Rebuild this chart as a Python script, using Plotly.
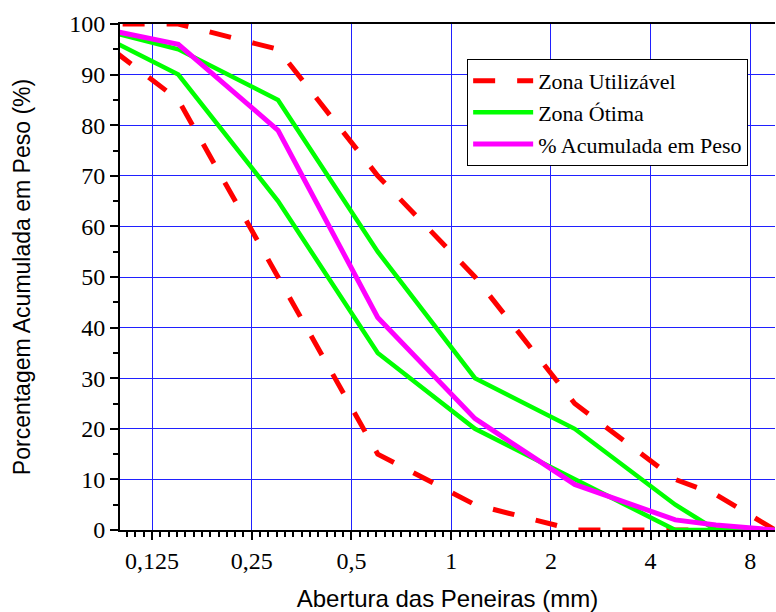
import math
import plotly.graph_objects as go

# Sieve openings (mm)
sieves = [0.075, 0.15, 0.3, 0.6, 1.18, 2.36, 4.75, 6.3, 9.5]

# Cumulative % retained
util_upper = [100, 100, 95, 70, 50, 25, 10, 7, 0]
util_lower = [100, 85, 50, 15, 5, 0, 0, 0, 0]
otima_upper = [100, 95, 85, 55, 30, 20, 5, 0, 0]
otima_lower = [100, 90, 65, 35, 20, 10, 0, 0, 0]
acumulada = [100, 96, 79, 42, 22, 9, 2, 1, 0]

x_tickvals = [0.125, 0.25, 0.5, 1, 2, 4, 8]
x_ticktext = ["0,125", "0,25", "0,5", "1", "2", "4", "8"]
y_tickvals = list(range(0, 101, 10))

RED = "#ff0000"
GREEN = "#00ff00"
MAGENTA = "#ff00ff"
SERIF = "Liberation Serif"
SANS = "Liberation Sans"

fig = go.Figure()

fig.add_trace(go.Scatter(x=sieves, y=util_upper, mode="lines", name="Zona Utilizável",
                         legendgroup="util", showlegend=True,
                         line=dict(color=RED, width=5, dash="22px,22px")))
fig.add_trace(go.Scatter(x=sieves, y=util_lower, mode="lines", name="Zona Utilizável",
                         legendgroup="util", showlegend=False,
                         line=dict(color=RED, width=5, dash="22px,22px")))
fig.add_trace(go.Scatter(x=sieves, y=otima_upper, mode="lines", name="Zona Ótima",
                         legendgroup="otima", showlegend=True,
                         line=dict(color=GREEN, width=4.5)))
fig.add_trace(go.Scatter(x=sieves, y=otima_lower, mode="lines", name="Zona Ótima",
                         legendgroup="otima", showlegend=False,
                         line=dict(color=GREEN, width=4.5)))
fig.add_trace(go.Scatter(x=sieves, y=acumulada, mode="lines", name="% Acumulada em Peso",
                         legendgroup="acum", showlegend=True,
                         line=dict(color=MAGENTA, width=5)))

# minor ticks: 12 evenly spaced (in log scale) per octave
minor_vals = []
for k in range(-8, 12 * 7):
    v = 0.125 * 2 ** (k / 12)
    if 0.1 <= v <= 9.5 and k % 12 != 0:
        minor_vals.append(v)

fig.update_layout(
    width=776, height=612,
    margin=dict(l=120, r=1, t=24, b=82),
    paper_bgcolor="white", plot_bgcolor="white",
    showlegend=True,
    legend=dict(
        x=0.53, y=0.931, xanchor="left", yanchor="top",
        bgcolor="white", bordercolor="black", borderwidth=1,
        font=dict(family=SERIF, size=22, color="black"),
        tracegroupgap=0, itemwidth=60,
    ),
    xaxis=dict(
        type="log", range=[math.log10(0.1), math.log10(9.5)],
        tickmode="array", tickvals=x_tickvals, ticktext=x_ticktext,
        ticks="outside", ticklen=8, tickwidth=2, tickcolor="black",
        showline=True, linecolor="black", linewidth=2, mirror=True,
        showgrid=True, gridcolor="#2020ff", gridwidth=1,
        zeroline=False,
        tickfont=dict(family=SERIF, size=24, color="black"),
        minor=dict(tickmode="array", tickvals=minor_vals, ticks="outside",
                   ticklen=5, tickwidth=2, tickcolor="black", showgrid=False),
        title=dict(text="Abertura das Peneiras (mm)", standoff=18,
                   font=dict(family=SANS, size=24, color="black")),
    ),
    yaxis=dict(
        range=[0, 100],
        tickmode="array", tickvals=y_tickvals,
        ticks="outside", ticklen=8, tickwidth=2, tickcolor="black",
        showline=True, linecolor="black", linewidth=2,
        showgrid=True, gridcolor="#2020ff", gridwidth=1,
        zeroline=False,
        tickfont=dict(family=SERIF, size=24, color="black"),
        minor=dict(tickmode="linear", tick0=5, dtick=10, ticks="outside",
                   ticklen=5, tickwidth=2, tickcolor="black", showgrid=False),
        title=dict(text="Porcentagem Acumulada em Peso (%)", standoff=32,
                   font=dict(family=SANS, size=23, color="black")),
    ),
)

fig.write_html("out.html")
